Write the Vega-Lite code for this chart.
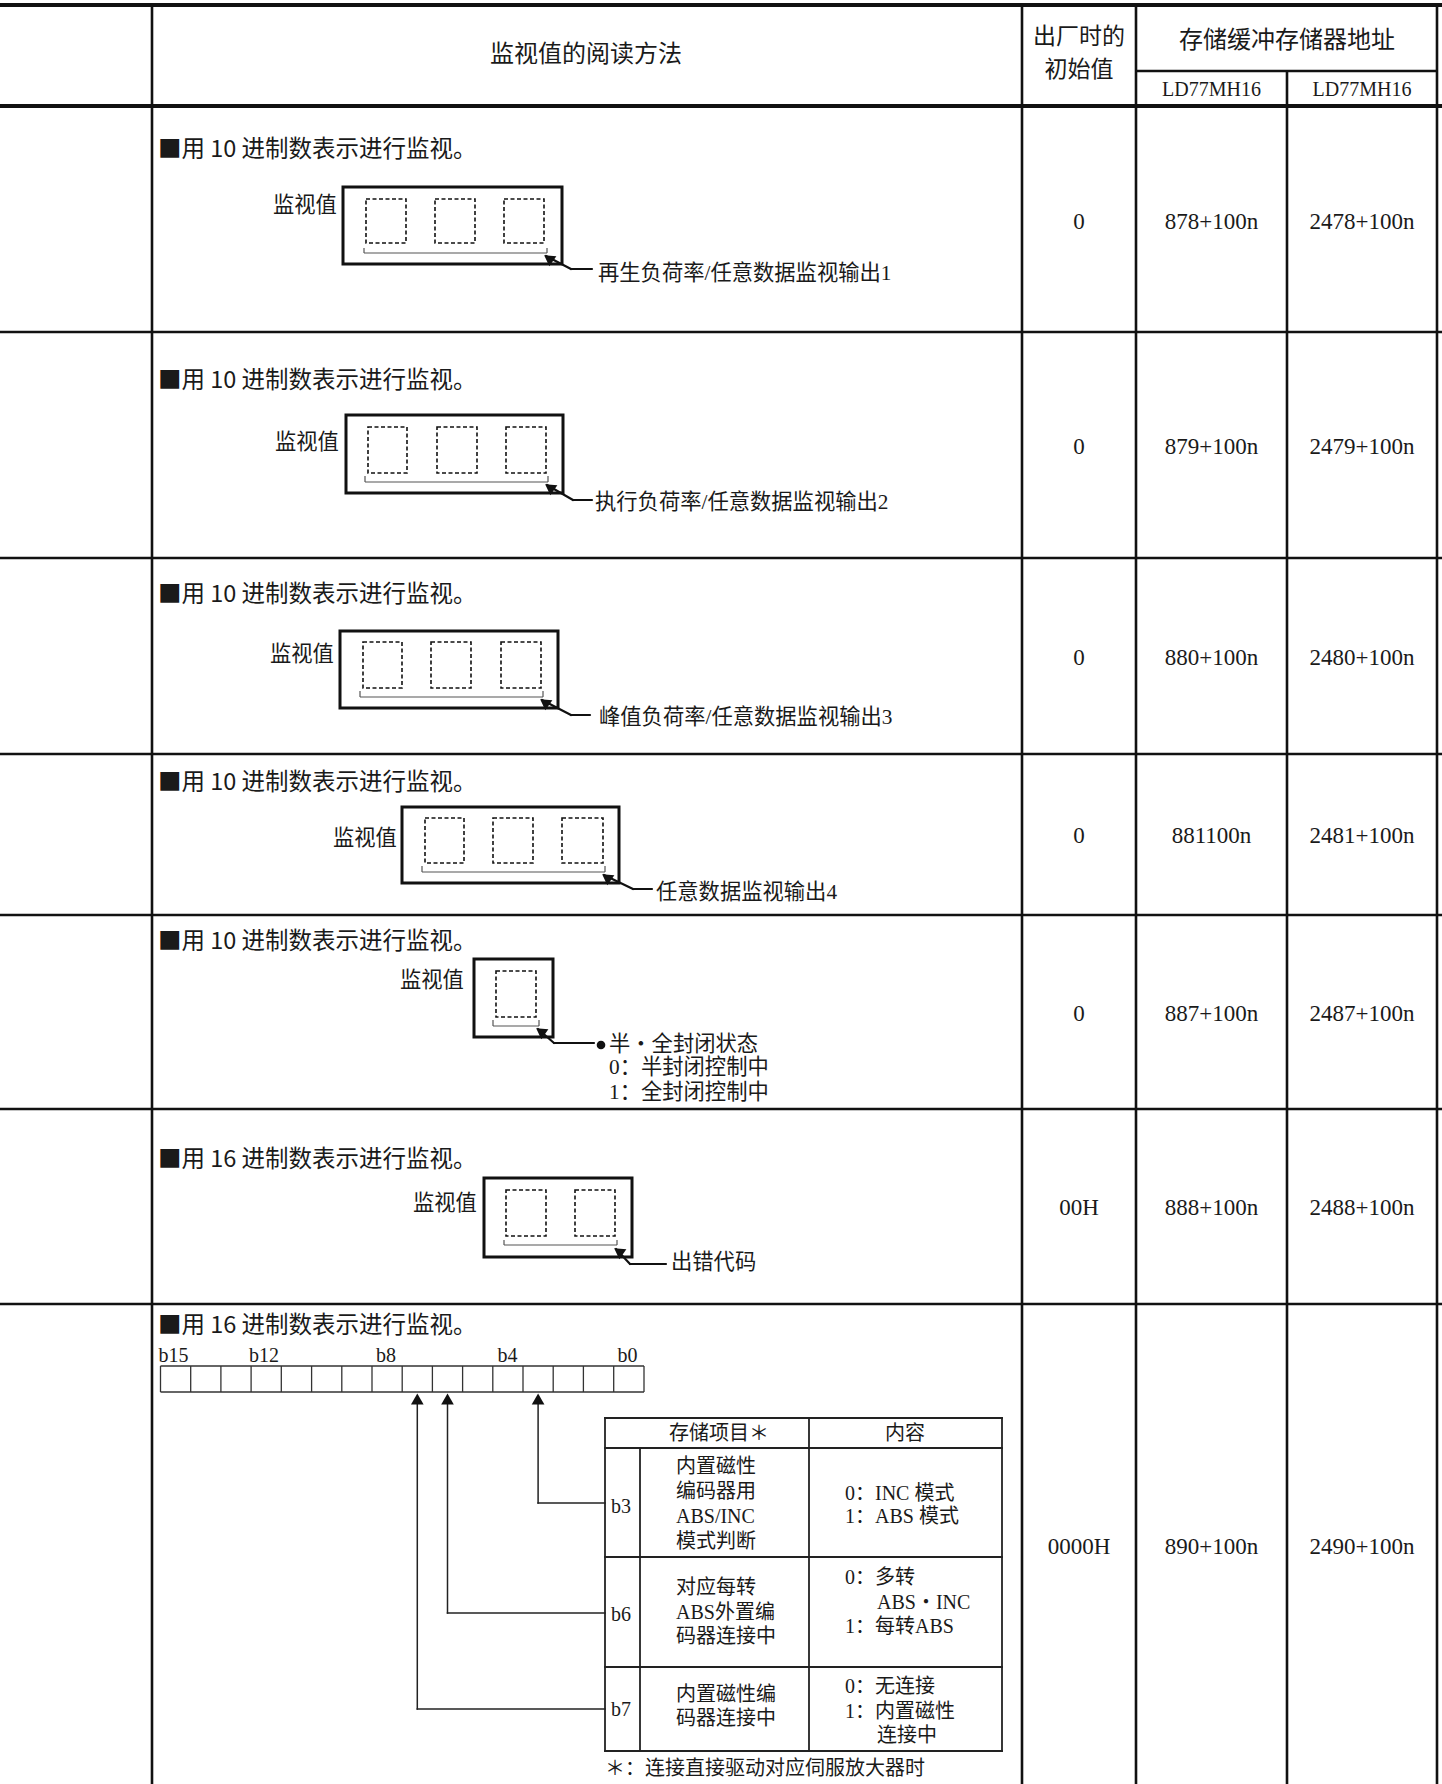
{
  "$schema": "https://vega.github.io/schema/vega-lite/v6.json",
  "width": 1442,
  "height": 1784,
  "padding": 0,
  "autosize": "none",
  "background": "#ffffff",
  "config": {"view": {"stroke": null}},
  "datasets": {
    "thick": [
      {"x": 0, "y": 5, "x2": 1442, "y2": 5},
      {"x": 0, "y": 106, "x2": 1442, "y2": 106}
    ],
    "grid": [
      {"x": 0, "y": 332, "x2": 1442, "y2": 332},
      {"x": 0, "y": 558, "x2": 1442, "y2": 558},
      {"x": 0, "y": 754, "x2": 1442, "y2": 754},
      {"x": 0, "y": 915, "x2": 1442, "y2": 915},
      {"x": 0, "y": 1109, "x2": 1442, "y2": 1109},
      {"x": 0, "y": 1304, "x2": 1442, "y2": 1304},
      {"x": 1136, "y": 71, "x2": 1437, "y2": 71},
      {"x": 152, "y": 5, "x2": 152, "y2": 1784},
      {"x": 1022, "y": 5, "x2": 1022, "y2": 1784},
      {"x": 1136, "y": 5, "x2": 1136, "y2": 1784},
      {"x": 1287, "y": 71, "x2": 1287, "y2": 1784},
      {"x": 1437, "y": 5, "x2": 1437, "y2": 1784}
    ],
    "boxes": [
      {"x": 343, "y": 187, "x2": 562, "y2": 264},
      {"x": 346, "y": 415, "x2": 563, "y2": 493},
      {"x": 340, "y": 631, "x2": 558, "y2": 708},
      {"x": 402, "y": 807, "x2": 619, "y2": 883},
      {"x": 474, "y": 959, "x2": 553, "y2": 1037},
      {"x": 484, "y": 1178, "x2": 632, "y2": 1257}
    ],
    "dashed": [
      {"x": 366, "y": 199, "x2": 406, "y2": 243},
      {"x": 435, "y": 199, "x2": 475, "y2": 243},
      {"x": 504, "y": 199, "x2": 544, "y2": 243},
      {"x": 368, "y": 427, "x2": 407, "y2": 473},
      {"x": 437, "y": 427, "x2": 477, "y2": 473},
      {"x": 506, "y": 427, "x2": 546, "y2": 473},
      {"x": 363, "y": 642, "x2": 402, "y2": 688},
      {"x": 431, "y": 642, "x2": 471, "y2": 688},
      {"x": 501, "y": 642, "x2": 541, "y2": 688},
      {"x": 425, "y": 818, "x2": 464, "y2": 863},
      {"x": 493, "y": 818, "x2": 533, "y2": 863},
      {"x": 562, "y": 818, "x2": 603, "y2": 863},
      {"x": 496, "y": 971, "x2": 536, "y2": 1017},
      {"x": 506, "y": 1190, "x2": 546, "y2": 1236},
      {"x": 575, "y": 1190, "x2": 615, "y2": 1236}
    ],
    "brackets": [
      {"x": 364, "y": 253, "x2": 547, "y2": 253},
      {"x": 364, "y": 248, "x2": 364, "y2": 253},
      {"x": 547, "y": 248, "x2": 547, "y2": 253},
      {"x": 365, "y": 482, "x2": 548, "y2": 482},
      {"x": 365, "y": 476, "x2": 365, "y2": 482},
      {"x": 548, "y": 476, "x2": 548, "y2": 482},
      {"x": 360, "y": 697, "x2": 543, "y2": 697},
      {"x": 360, "y": 691, "x2": 360, "y2": 697},
      {"x": 543, "y": 691, "x2": 543, "y2": 697},
      {"x": 422, "y": 872, "x2": 605, "y2": 872},
      {"x": 422, "y": 866, "x2": 422, "y2": 872},
      {"x": 605, "y": 866, "x2": 605, "y2": 872},
      {"x": 493, "y": 1026, "x2": 539, "y2": 1026},
      {"x": 493, "y": 1020, "x2": 493, "y2": 1026},
      {"x": 539, "y": 1020, "x2": 539, "y2": 1026},
      {"x": 504, "y": 1245, "x2": 617, "y2": 1245},
      {"x": 504, "y": 1240, "x2": 504, "y2": 1245},
      {"x": 617, "y": 1240, "x2": 617, "y2": 1245}
    ],
    "leaders": [
      {"x": 546, "y": 256, "x2": 571, "y2": 269},
      {"x": 571, "y": 269, "x2": 592, "y2": 269},
      {"x": 547, "y": 485, "x2": 573, "y2": 500},
      {"x": 573, "y": 500, "x2": 592, "y2": 500},
      {"x": 542, "y": 700, "x2": 571, "y2": 715},
      {"x": 571, "y": 715, "x2": 590, "y2": 715},
      {"x": 604, "y": 875, "x2": 633, "y2": 889},
      {"x": 633, "y": 889, "x2": 652, "y2": 889},
      {"x": 538, "y": 1029, "x2": 554, "y2": 1043},
      {"x": 554, "y": 1043, "x2": 594, "y2": 1043},
      {"x": 616, "y": 1249, "x2": 630, "y2": 1264},
      {"x": 630, "y": 1264, "x2": 666, "y2": 1264}
    ],
    "heads": [
      {"x": 548.5, "y": 258.2},
      {"x": 549.5, "y": 487.2},
      {"x": 544.5, "y": 702.2},
      {"x": 606.5, "y": 877.2},
      {"x": 540.5, "y": 1031.2},
      {"x": 618.5, "y": 1251.2}
    ],
    "bullets": [
      {"x": 601, "y": 1045}
    ],
    "register": [
      {"x": 160.5, "y": 1366, "x2": 644, "y2": 1366},
      {"x": 160.5, "y": 1392, "x2": 644, "y2": 1392},
      {"x": 160.5, "y": 1366, "x2": 160.5, "y2": 1392},
      {"x": 190.7, "y": 1366, "x2": 190.7, "y2": 1392},
      {"x": 220.9, "y": 1366, "x2": 220.9, "y2": 1392},
      {"x": 251.1, "y": 1366, "x2": 251.1, "y2": 1392},
      {"x": 281.3, "y": 1366, "x2": 281.3, "y2": 1392},
      {"x": 311.6, "y": 1366, "x2": 311.6, "y2": 1392},
      {"x": 341.8, "y": 1366, "x2": 341.8, "y2": 1392},
      {"x": 372.0, "y": 1366, "x2": 372.0, "y2": 1392},
      {"x": 402.2, "y": 1366, "x2": 402.2, "y2": 1392},
      {"x": 432.4, "y": 1366, "x2": 432.4, "y2": 1392},
      {"x": 462.6, "y": 1366, "x2": 462.6, "y2": 1392},
      {"x": 492.8, "y": 1366, "x2": 492.8, "y2": 1392},
      {"x": 523.0, "y": 1366, "x2": 523.0, "y2": 1392},
      {"x": 553.2, "y": 1366, "x2": 553.2, "y2": 1392},
      {"x": 583.4, "y": 1366, "x2": 583.4, "y2": 1392},
      {"x": 613.7, "y": 1366, "x2": 613.7, "y2": 1392},
      {"x": 644, "y": 1366, "x2": 644, "y2": 1392}
    ],
    "upLeaders": [
      {"x": 417.3, "y": 1400, "x2": 417.3, "y2": 1709},
      {"x": 417.3, "y": 1709, "x2": 605, "y2": 1709},
      {"x": 447.5, "y": 1400, "x2": 447.5, "y2": 1613},
      {"x": 447.5, "y": 1613, "x2": 605, "y2": 1613},
      {"x": 538.1, "y": 1400, "x2": 538.1, "y2": 1503},
      {"x": 538.1, "y": 1503, "x2": 605, "y2": 1503}
    ],
    "upHeads": [
      {"x": 417.3, "y": 1399},
      {"x": 447.5, "y": 1399},
      {"x": 538.1, "y": 1399}
    ],
    "innerTable": [
      {"x": 605, "y": 1418, "x2": 1002, "y2": 1418},
      {"x": 605, "y": 1751, "x2": 1002, "y2": 1751},
      {"x": 605, "y": 1418, "x2": 605, "y2": 1751},
      {"x": 1002, "y": 1418, "x2": 1002, "y2": 1751},
      {"x": 605, "y": 1448, "x2": 1002, "y2": 1448},
      {"x": 605, "y": 1557, "x2": 1002, "y2": 1557},
      {"x": 605, "y": 1667, "x2": 1002, "y2": 1667},
      {"x": 640, "y": 1448, "x2": 640, "y2": 1751},
      {"x": 809, "y": 1418, "x2": 809, "y2": 1751}
    ],
    "hdrText": [
      {"x": 586, "y": 55, "t": "监视值的阅读方法"},
      {"x": 1287, "y": 41, "t": "存储缓冲存储器地址"}
    ],
    "hdrSmall": [
      {"x": 1079, "y": 37, "t": "出厂时的"},
      {"x": 1079, "y": 70, "t": "初始值"}
    ],
    "hdrLatin": [
      {"x": 1211.5, "y": 90, "t": "LD77MH16"},
      {"x": 1362, "y": 90, "t": "LD77MH16"}
    ],
    "values": [
      {"x": 1079, "y": 222, "t": "0"},
      {"x": 1211.5, "y": 222, "t": "878+100n"},
      {"x": 1362, "y": 222, "t": "2478+100n"},
      {"x": 1079, "y": 447, "t": "0"},
      {"x": 1211.5, "y": 447, "t": "879+100n"},
      {"x": 1362, "y": 447, "t": "2479+100n"},
      {"x": 1079, "y": 658, "t": "0"},
      {"x": 1211.5, "y": 658, "t": "880+100n"},
      {"x": 1362, "y": 658, "t": "2480+100n"},
      {"x": 1079, "y": 836, "t": "0"},
      {"x": 1211.5, "y": 836, "t": "881100n"},
      {"x": 1362, "y": 836, "t": "2481+100n"},
      {"x": 1079, "y": 1014, "t": "0"},
      {"x": 1211.5, "y": 1014, "t": "887+100n"},
      {"x": 1362, "y": 1014, "t": "2487+100n"},
      {"x": 1079, "y": 1208, "t": "00H"},
      {"x": 1211.5, "y": 1208, "t": "888+100n"},
      {"x": 1362, "y": 1208, "t": "2488+100n"},
      {"x": 1079, "y": 1547, "t": "0000H"},
      {"x": 1211.5, "y": 1547, "t": "890+100n"},
      {"x": 1362, "y": 1547, "t": "2490+100n"}
    ],
    "headings": [
      {"x": 158, "y": 150, "t": "■用 10 进制数表示进行监视。"},
      {"x": 158, "y": 381, "t": "■用 10 进制数表示进行监视。"},
      {"x": 158, "y": 595, "t": "■用 10 进制数表示进行监视。"},
      {"x": 158, "y": 783, "t": "■用 10 进制数表示进行监视。"},
      {"x": 158, "y": 942, "t": "■用 10 进制数表示进行监视。"},
      {"x": 158, "y": 1160, "t": "■用 16 进制数表示进行监视。"},
      {"x": 158, "y": 1326, "t": "■用 16 进制数表示进行监视。"}
    ],
    "labels": [
      {"x": 273, "y": 206, "t": "监视值"},
      {"x": 275, "y": 443, "t": "监视值"},
      {"x": 270, "y": 655, "t": "监视值"},
      {"x": 333, "y": 839, "t": "监视值"},
      {"x": 400, "y": 981, "t": "监视值"},
      {"x": 413, "y": 1204, "t": "监视值"},
      {"x": 598, "y": 274, "t": "再生负荷率/任意数据监视输出1"},
      {"x": 595, "y": 503, "t": "执行负荷率/任意数据监视输出2"},
      {"x": 599, "y": 718, "t": "峰值负荷率/任意数据监视输出3"},
      {"x": 656, "y": 893, "t": "任意数据监视输出4"},
      {"x": 609, "y": 1045, "t": "半・全封闭状态"},
      {"x": 609, "y": 1068, "t": "0：半封闭控制中"},
      {"x": 609, "y": 1093, "t": "1：全封闭控制中"},
      {"x": 671, "y": 1263, "t": "出错代码"}
    ],
    "bits": [
      {"x": 158.6, "y": 1356, "t": "b15"},
      {"x": 249, "y": 1356, "t": "b12"},
      {"x": 376, "y": 1356, "t": "b8"},
      {"x": 497.5, "y": 1356, "t": "b4"},
      {"x": 617.5, "y": 1356, "t": "b0"},
      {"x": 611, "y": 1507, "t": "b3"},
      {"x": 611, "y": 1615, "t": "b6"},
      {"x": 611, "y": 1710, "t": "b7"}
    ],
    "tblHead": [
      {"x": 719, "y": 1434, "t": "存储项目＊"},
      {"x": 905, "y": 1434, "t": "内容"}
    ],
    "tblText": [
      {"x": 676, "y": 1467, "t": "内置磁性"},
      {"x": 676, "y": 1492, "t": "编码器用"},
      {"x": 676, "y": 1517, "t": "ABS/INC"},
      {"x": 676, "y": 1542, "t": "模式判断"},
      {"x": 676, "y": 1588, "t": "对应每转"},
      {"x": 676, "y": 1613, "t": "ABS外置编"},
      {"x": 676, "y": 1637, "t": "码器连接中"},
      {"x": 676, "y": 1695, "t": "内置磁性编"},
      {"x": 676, "y": 1719, "t": "码器连接中"},
      {"x": 845, "y": 1494, "t": "0：INC  模式"},
      {"x": 845, "y": 1517, "t": "1：ABS 模式"},
      {"x": 845, "y": 1578, "t": "0：多转"},
      {"x": 877, "y": 1603, "t": "ABS・INC"},
      {"x": 845, "y": 1627, "t": "1：每转ABS"},
      {"x": 845, "y": 1687, "t": "0：无连接"},
      {"x": 845, "y": 1712, "t": "1：内置磁性"},
      {"x": 877, "y": 1736, "t": "连接中"},
      {"x": 605, "y": 1769, "t": "＊：连接直接驱动对应伺服放大器时"}
    ]
  },
  "encoding": {
    "x": {"field": "x", "type": "quantitative", "scale": {"domain": [0, 1442], "nice": false, "zero": false}, "axis": null},
    "y": {"field": "y", "type": "quantitative", "scale": {"domain": [0, 1784], "nice": false, "zero": false, "reverse": true}, "axis": null}
  },
  "layer": [
    {"data": {"name": "thick"}, "mark": {"type": "rule", "strokeWidth": 4, "color": "#111111"}, "encoding": {"x2": {"field": "x2"}, "y2": {"field": "y2"}}},
    {"data": {"name": "grid"}, "mark": {"type": "rule", "strokeWidth": 2.6, "color": "#111111"}, "encoding": {"x2": {"field": "x2"}, "y2": {"field": "y2"}}},
    {"data": {"name": "boxes"}, "mark": {"type": "rect", "filled": false, "stroke": "#111111", "strokeWidth": 3}, "encoding": {"x2": {"field": "x2"}, "y2": {"field": "y2"}}},
    {"data": {"name": "dashed"}, "mark": {"type": "rect", "filled": false, "stroke": "#111111", "strokeWidth": 1.6, "strokeDash": [4, 2.5]}, "encoding": {"x2": {"field": "x2"}, "y2": {"field": "y2"}}},
    {"data": {"name": "brackets"}, "mark": {"type": "rule", "strokeWidth": 1.2, "color": "#555555"}, "encoding": {"x2": {"field": "x2"}, "y2": {"field": "y2"}}},
    {"data": {"name": "leaders"}, "mark": {"type": "rule", "strokeWidth": 2.2, "color": "#111111", "strokeCap": "round"}, "encoding": {"x2": {"field": "x2"}, "y2": {"field": "y2"}}},
    {"data": {"name": "heads"}, "mark": {"type": "point", "shape": "triangle-up", "filled": true, "color": "#111111", "opacity": 1, "size": 150, "angle": 305}},
    {"data": {"name": "bullets"}, "mark": {"type": "point", "shape": "circle", "filled": true, "color": "#111111", "opacity": 1, "size": 75}},
    {"data": {"name": "register"}, "mark": {"type": "rule", "strokeWidth": 1.3, "color": "#333333"}, "encoding": {"x2": {"field": "x2"}, "y2": {"field": "y2"}}},
    {"data": {"name": "upLeaders"}, "mark": {"type": "rule", "strokeWidth": 1.5, "color": "#222222", "strokeCap": "square"}, "encoding": {"x2": {"field": "x2"}, "y2": {"field": "y2"}}},
    {"data": {"name": "upHeads"}, "mark": {"type": "point", "shape": "triangle-up", "filled": true, "color": "#111111", "opacity": 1, "size": 160}},
    {"data": {"name": "innerTable"}, "mark": {"type": "rule", "strokeWidth": 1.8, "color": "#222222", "strokeCap": "square"}, "encoding": {"x2": {"field": "x2"}, "y2": {"field": "y2"}}},
    {"data": {"name": "hdrText"}, "mark": {"type": "text", "font": "Noto Sans CJK SC", "fontSize": 24, "align": "center", "baseline": "middle", "color": "#1a1a1a"}, "encoding": {"text": {"field": "t"}}},
    {"data": {"name": "hdrSmall"}, "mark": {"type": "text", "font": "Noto Sans CJK SC", "fontSize": 23, "align": "center", "baseline": "middle", "color": "#1a1a1a"}, "encoding": {"text": {"field": "t"}}},
    {"data": {"name": "hdrLatin"}, "mark": {"type": "text", "font": "Liberation Serif", "fontSize": 20, "align": "center", "baseline": "middle", "color": "#1a1a1a"}, "encoding": {"text": {"field": "t"}}},
    {"data": {"name": "values"}, "mark": {"type": "text", "font": "Liberation Serif", "fontSize": 23, "align": "center", "baseline": "middle", "color": "#1a1a1a"}, "encoding": {"text": {"field": "t"}}},
    {"data": {"name": "headings"}, "mark": {"type": "text", "font": "Noto Sans CJK SC", "fontSize": 23.5, "align": "left", "baseline": "middle", "color": "#1a1a1a"}, "encoding": {"text": {"field": "t"}}},
    {"data": {"name": "labels"}, "mark": {"type": "text", "font": "Liberation Serif, Noto Sans CJK SC", "fontSize": 21.3, "align": "left", "baseline": "middle", "color": "#1a1a1a"}, "encoding": {"text": {"field": "t"}}},
    {"data": {"name": "bits"}, "mark": {"type": "text", "font": "Liberation Serif", "fontSize": 20, "align": "left", "baseline": "middle", "color": "#1a1a1a"}, "encoding": {"text": {"field": "t"}}},
    {"data": {"name": "tblHead"}, "mark": {"type": "text", "font": "Noto Sans CJK SC", "fontSize": 20, "align": "center", "baseline": "middle", "color": "#1a1a1a"}, "encoding": {"text": {"field": "t"}}},
    {"data": {"name": "tblText"}, "mark": {"type": "text", "font": "Liberation Serif, Noto Sans CJK SC", "fontSize": 20, "align": "left", "baseline": "middle", "color": "#1a1a1a"}, "encoding": {"text": {"field": "t"}}}
  ]
}
